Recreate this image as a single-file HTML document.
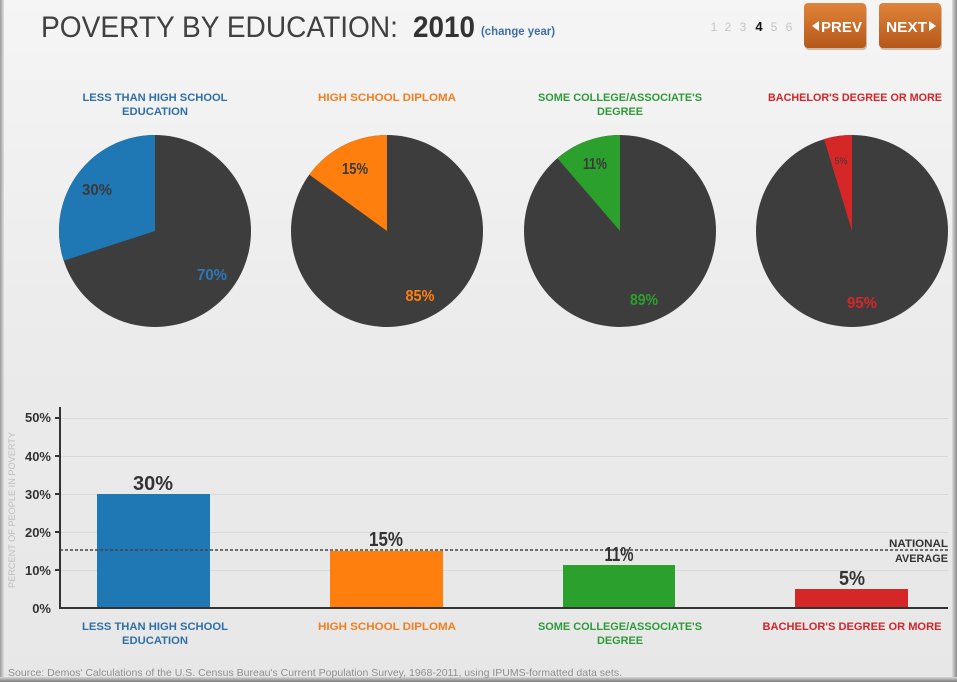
<!DOCTYPE html>
<html><head><meta charset="utf-8"><style>
html,body{margin:0;padding:0;width:957px;height:682px;overflow:hidden;background:#ececec}
svg{display:block}
text{font-family:"Liberation Sans",sans-serif}
</style></head><body>
<svg width="957" height="682" viewBox="0 0 957 682" xmlns="http://www.w3.org/2000/svg">
<defs>
<linearGradient id="bg" x1="0" y1="0" x2="0" y2="1">
<stop offset="0" stop-color="#f5f5f5"/><stop offset="0.5" stop-color="#ebebeb"/><stop offset="1" stop-color="#e7e7e7"/>
</linearGradient>
<linearGradient id="btn" x1="0" y1="0" x2="0" y2="1">
<stop offset="0" stop-color="#e0843a"/><stop offset="1" stop-color="#b5581b"/>
</linearGradient>
<linearGradient id="lb" x1="0" y1="0" x2="1" y2="0">
<stop offset="0" stop-color="#9a9a9a"/><stop offset="1" stop-color="#e0e0e0"/>
</linearGradient>
<linearGradient id="rb" x1="0" y1="0" x2="1" y2="0">
<stop offset="0" stop-color="#dcdcdc"/><stop offset="1" stop-color="#8a8a8a"/>
</linearGradient>
<linearGradient id="bb" x1="0" y1="0" x2="0" y2="1">
<stop offset="0" stop-color="#d8d8d8"/><stop offset="1" stop-color="#7a7a7a"/>
</linearGradient>
</defs>
<rect x="0" y="0" width="957" height="682" fill="url(#bg)"/>
<rect x="0" y="0" width="4" height="682" fill="url(#lb)"/>
<rect x="952" y="0" width="5" height="682" fill="url(#rb)"/>
<rect x="0" y="677" width="957" height="5" fill="url(#bb)"/>

<!-- Title -->
<text x="41" y="37" font-size="30" fill="#404040" textLength="357" lengthAdjust="spacingAndGlyphs">POVERTY BY EDUCATION:</text>
<text x="413" y="37" font-size="30" font-weight="bold" fill="#333" textLength="62" lengthAdjust="spacingAndGlyphs">2010</text>
<text x="481" y="35" font-size="12" font-weight="bold" fill="#3f6fa6" textLength="74" lengthAdjust="spacingAndGlyphs">(change year)</text>

<!-- page numbers -->
<g font-size="12" text-anchor="middle" fill="#c4c4c4">
<text x="714" y="31">1</text><text x="728" y="31">2</text><text x="743" y="31">3</text>
<text x="759" y="31" fill="#111" font-weight="bold" font-size="13">4</text>
<text x="774" y="31">5</text><text x="789" y="31">6</text>
</g>
<!-- buttons -->
<rect x="805" y="5" width="62" height="45" rx="4" fill="#8a4a1c" opacity="0.35"/>
<rect x="804" y="3" width="62" height="45" rx="4" fill="url(#btn)"/>
<polygon points="812,26 819,21 819,31" fill="#fff"/>
<text x="821" y="32" font-size="15" font-weight="bold" fill="#fff" textLength="41" lengthAdjust="spacingAndGlyphs">PREV</text>
<rect x="880" y="5" width="62" height="45" rx="4" fill="#8a4a1c" opacity="0.35"/>
<rect x="879" y="3" width="62" height="45" rx="4" fill="url(#btn)"/>
<text x="886" y="32" font-size="15" font-weight="bold" fill="#fff" textLength="41" lengthAdjust="spacingAndGlyphs">NEXT</text>
<polygon points="936,26 929,21 929,31" fill="#fff"/>

<!-- pie titles -->
<g font-size="11" font-weight="bold" text-anchor="middle">
<text x="155" y="101" fill="#2f6fa8" textLength="145" lengthAdjust="spacingAndGlyphs">LESS THAN HIGH SCHOOL</text>
<text x="155" y="115" fill="#2f6fa8" textLength="66" lengthAdjust="spacingAndGlyphs">EDUCATION</text>
<text x="387" y="101" fill="#f07e22" textLength="138" lengthAdjust="spacingAndGlyphs">HIGH SCHOOL DIPLOMA</text>
<text x="620" y="101" fill="#2f9a3a" textLength="164" lengthAdjust="spacingAndGlyphs">SOME COLLEGE/ASSOCIATE'S</text>
<text x="620" y="115" fill="#2f9a3a" textLength="46" lengthAdjust="spacingAndGlyphs">DEGREE</text>
<text x="855" y="101" fill="#d0262c" textLength="174" lengthAdjust="spacingAndGlyphs">BACHELOR'S DEGREE OR MORE</text>
</g>

<!-- pies -->
<circle cx="155" cy="231" r="96" fill="#3d3d3d"/>
<path d="M155,231 L155,135 A96,96 0 0 0 63.7,260.7 Z" fill="#1f77b4"/>
<circle cx="387" cy="231" r="96" fill="#3d3d3d"/>
<path d="M387,231 L387,135 A96,96 0 0 0 309.3,174.6 Z" fill="#ff7f0e"/>
<circle cx="620" cy="231" r="96" fill="#3d3d3d"/>
<path d="M620,231 L620,135 A96,96 0 0 0 557.4,158.2 Z" fill="#2ca02c"/>
<circle cx="852" cy="231" r="96" fill="#3d3d3d"/>
<path d="M852,231 L852,135 A96,96 0 0 0 824.1,139.1 Z" fill="#d62728"/>

<g font-size="16" font-weight="bold" text-anchor="middle">
<text x="97" y="195" fill="#3a3a3a" textLength="30" lengthAdjust="spacingAndGlyphs">30%</text>
<text x="212" y="280" fill="#2f78b8" textLength="30" lengthAdjust="spacingAndGlyphs">70%</text>
<text x="355" y="174" fill="#3a3a3a" textLength="26" lengthAdjust="spacingAndGlyphs">15%</text>
<text x="420" y="301" fill="#ff7f0e" textLength="29" lengthAdjust="spacingAndGlyphs">85%</text>
<text x="595" y="169" fill="#3a3a3a" textLength="24" lengthAdjust="spacingAndGlyphs">11%</text>
<text x="644" y="305" fill="#2ca02c" textLength="28" lengthAdjust="spacingAndGlyphs">89%</text>
<text x="841" y="164" font-size="9" font-weight="normal" fill="#3a3a3a">5%</text>
<text x="862" y="308" fill="#d62728" textLength="30" lengthAdjust="spacingAndGlyphs">95%</text>
</g>

<!-- bar chart gridlines -->
<g stroke="#d9d9d9" stroke-width="1">
<line x1="60" y1="418.5" x2="948" y2="418.5"/>
<line x1="60" y1="456.5" x2="948" y2="456.5"/>
<line x1="60" y1="494.5" x2="948" y2="494.5"/>
<line x1="60" y1="532.5" x2="948" y2="532.5"/>
<line x1="60" y1="570.5" x2="948" y2="570.5"/>
</g>

<!-- bars -->
<rect x="97" y="494" width="113" height="114" fill="#1f77b4"/>
<rect x="330" y="551" width="113" height="57" fill="#ff7f0e"/>
<rect x="563" y="565" width="112" height="43" fill="#2ca02c"/>
<rect x="795" y="589" width="113" height="19" fill="#d62728"/>

<!-- national average -->
<line x1="60" y1="550" x2="948" y2="550" stroke="#444" stroke-width="1.5" stroke-dasharray="3,2"/>
<g font-size="11" font-weight="bold" fill="#333" text-anchor="end">
<text x="948" y="547" textLength="59" lengthAdjust="spacingAndGlyphs">NATIONAL</text>
<text x="948" y="562" textLength="53" lengthAdjust="spacingAndGlyphs">AVERAGE</text>
</g>

<!-- axes -->
<line x1="60" y1="407" x2="60" y2="609" stroke="#333" stroke-width="2"/>
<line x1="59" y1="608" x2="948" y2="608" stroke="#333" stroke-width="2"/>
<g stroke="#333" stroke-width="2">
<line x1="55" y1="418" x2="60" y2="418"/>
<line x1="55" y1="456" x2="60" y2="456"/>
<line x1="55" y1="494" x2="60" y2="494"/>
<line x1="55" y1="532" x2="60" y2="532"/>
<line x1="55" y1="570" x2="60" y2="570"/>
</g>
<g font-size="13" font-weight="bold" fill="#333" text-anchor="end">
<text x="51" y="422">50%</text>
<text x="51" y="461">40%</text>
<text x="51" y="499">30%</text>
<text x="51" y="537">20%</text>
<text x="51" y="575">10%</text>
<text x="51" y="613">0%</text>
</g>
<text transform="translate(15,510) rotate(-90)" font-size="9.5" fill="#bdbdbd" text-anchor="middle" textLength="156" lengthAdjust="spacingAndGlyphs">PERCENT OF PEOPLE IN POVERTY</text>

<!-- bar values -->
<g font-size="20" font-weight="bold" fill="#333" text-anchor="middle">
<text x="153" y="490" textLength="40" lengthAdjust="spacingAndGlyphs">30%</text>
<text x="386" y="546" textLength="34" lengthAdjust="spacingAndGlyphs">15%</text>
<text x="619" y="561" textLength="29" lengthAdjust="spacingAndGlyphs">11%</text>
<text x="852" y="585" textLength="26" lengthAdjust="spacingAndGlyphs">5%</text>
</g>

<!-- category labels -->
<g font-size="11" font-weight="bold" text-anchor="middle">
<text x="155" y="630" fill="#2f6fa8" textLength="146" lengthAdjust="spacingAndGlyphs">LESS THAN HIGH SCHOOL</text>
<text x="155" y="644" fill="#2f6fa8" textLength="66" lengthAdjust="spacingAndGlyphs">EDUCATION</text>
<text x="387" y="630" fill="#f07e22" textLength="138" lengthAdjust="spacingAndGlyphs">HIGH SCHOOL DIPLOMA</text>
<text x="620" y="630" fill="#2f9a3a" textLength="164" lengthAdjust="spacingAndGlyphs">SOME COLLEGE/ASSOCIATE'S</text>
<text x="620" y="644" fill="#2f9a3a" textLength="46" lengthAdjust="spacingAndGlyphs">DEGREE</text>
<text x="852" y="630" fill="#d0262c" textLength="179" lengthAdjust="spacingAndGlyphs">BACHELOR'S DEGREE OR MORE</text>
</g>

<!-- source -->
<text x="8" y="676" font-size="10.5" fill="#8e8e8e" textLength="614" lengthAdjust="spacingAndGlyphs">Source: Demos' Calculations of the U.S. Census Bureau's Current Population Survey, 1968-2011, using IPUMS-formatted data sets.</text>
</svg>
</body></html>
